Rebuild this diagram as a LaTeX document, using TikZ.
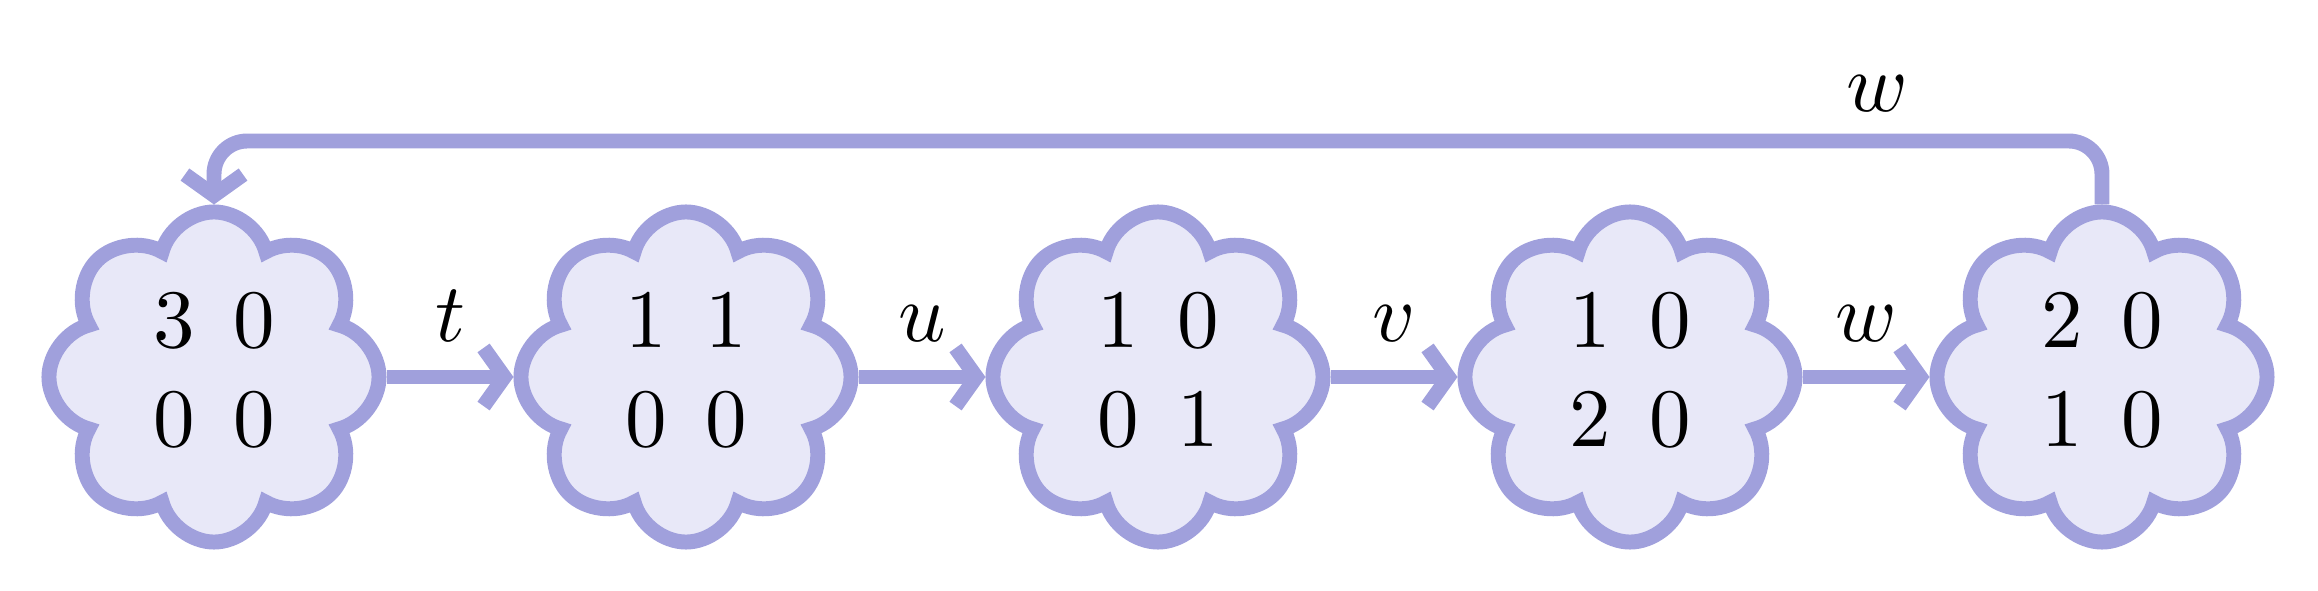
\documentclass[tikz,border=0pt]{standalone}
\usetikzlibrary{shapes.symbols,arrows.meta}
\definecolor{edgecol}{RGB}{160,160,220}
\definecolor{fillcol}{RGB}{232,232,248}
\setlength{\arraycolsep}{2.3pt}
\begin{document}
\begin{tikzpicture}[x=0.12048pt,y=-0.12048pt,
  state/.style={cloud, cloud puffs=8, cloud puff arc=150, aspect=1, draw=edgecol, fill=fillcol,
    line width=1.8pt, inner sep=-0.45pt},
  edge/.style={draw=edgecol, line width=1.8pt, -{Straight Barb[length=2.5pt,width=7pt]}},
  lab/.style={above}]
\useasboundingbox (0,0) rectangle (2318,591);
\node[state] (c1) at (214,377)  {$\begin{array}{cc}3&0\\0&0\end{array}$};
\node[state] (c2) at (686,377)  {$\begin{array}{cc}1&1\\0&0\end{array}$};
\node[state] (c3) at (1158,377) {$\begin{array}{cc}1&0\\0&1\end{array}$};
\node[state] (c4) at (1630,377) {$\begin{array}{cc}1&0\\2&0\end{array}$};
\node[state] (c5) at (2102,377) {$\begin{array}{cc}2&0\\1&0\end{array}$};
\draw[edge] (c1) -- node[lab] (lt) {$t$} (c2);
\draw[edge] (c2) -- node[lab] (lu) {$u$} (c3);
\draw[edge] (c3) -- node[lab] (lv) {$v$} (c4);
\draw[edge] (c4) -- node[lab] (lw) {$w$} (c5);
\coordinate (top) at (1158,141);
\draw[edge, rounded corners=4pt] (c5.north) |- (top) -| (c1.north);
\node[lab] (lwtop) at (1877,141) {$w$};
\end{tikzpicture}
\end{document}
